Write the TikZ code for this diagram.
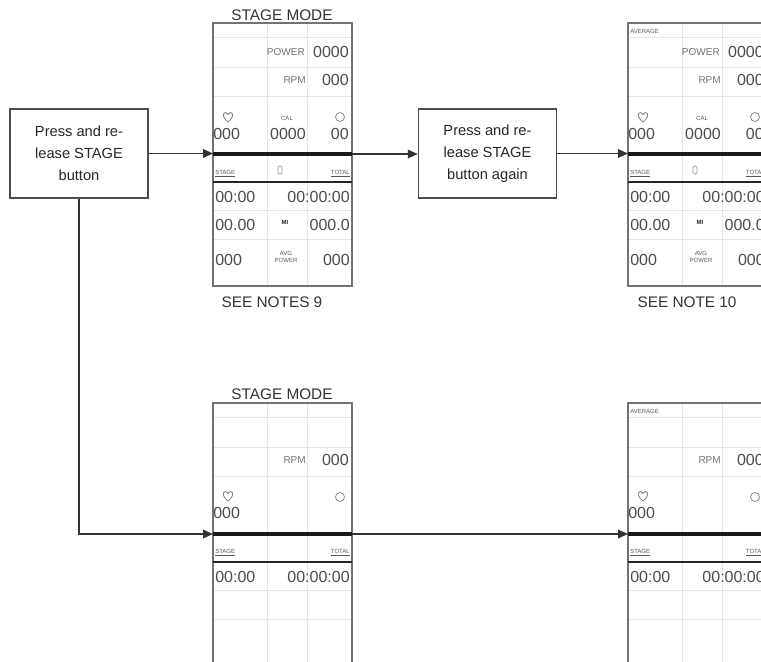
\documentclass[tikz,border=0pt]{standalone}
\usepackage{fontspec}
\setmainfont{Liberation Sans}
\usetikzlibrary{arrows.meta,calc}
\newcommand{\lcdbase}[1]{%
  \begin{scope}[shift={(#1.north west)}]
    \draw[gridln] (54,0)--(54,263) (94,0)--(94,263)
      (0,14)--(139,14) (0,44)--(139,44) (0,73)--(139,73)
      (0,187)--(139,187) (0,216)--(139,216);
    \draw[lcdframe] (0,0) rectangle (139,263);
    \draw[barln] (0,131) -- (139,131);
    \draw[barlnb] (0,159) -- (139,159);
    \coordinate (#1in) at (0,131);
    \coordinate (#1out) at (139,131);
  \end{scope}}
\newcommand{\heartat}[2]{%
  \draw[black!50, line width=0.6pt] (#1,#2+5) .. controls (#1-8,#2-1) and (#1-4,#2-8) .. (#1,#2-2.5)
    .. controls (#1+4,#2-8) and (#1+8,#2-1) .. (#1,#2+5);}
\begin{document}
\begin{tikzpicture}[x=0.75pt,y=-0.75pt,
  stepbox/.style={draw=black!70, line width=1.1pt, fill=white, align=center, text=black!85,
    font=\fontsize{11}{16.5}\selectfont, minimum width=103.5pt, minimum height=66.75pt, inner sep=0pt},
  lcd/.style={draw=none, fill=white, minimum width=104.25pt, minimum height=197.25pt, inner sep=0pt, anchor=north west},
  lcdframe/.style={draw=black!55, line width=1.2pt},
  conn/.style={draw=black!80, line width=0.9pt},
  arr/.style={conn, -{Triangle[length=7.5pt,width=6.5pt]}},
  gridln/.style={draw=black!10, line width=0.6pt},
  barln/.style={draw=black!90, line width=2.6pt},
  barlnb/.style={draw=black!85, line width=2pt},
  digit/.style={text=black!70, font=\fontsize{12}{12}\selectfont, inner sep=0pt},
  lbl/.style={text=black!55, font=\fontsize{7.5}{7.5}\selectfont, inner sep=0pt},
  tinylbl/.style={text=black!65, font=\fontsize{4.5}{5}\selectfont, inner sep=0pt, align=center},
  titletxt/.style={text=black!80, font=\fontsize{11.5}{11.5}\selectfont, inner sep=0pt},
  circ/.style={draw=black!45, line width=0.6pt},
]
\clip (0,0) rectangle (761,661);
\fill[white] (0,0) rectangle (761,661);

% step boxes
\node[stepbox] (b1) at (79,153.5) {Press and re-\\lease STAGE\\button};
\node[stepbox] (b2) at (487.5,153.5) {Press and re-\\lease STAGE\\button again};

% displays
\node[lcd] (d1) at (213,23) {};
\node[lcd] (d3) at (628,23) {};
\node[lcd] (d2) at (213,403) {};
\node[lcd] (d4) at (628,403) {};
\lcdbase{d1}
\lcdbase{d3}
\lcdbase{d2}
\lcdbase{d4}

% titles and notes
\node[titletxt] (t1) at (282,15) {STAGE MODE};
\node[titletxt] (t2) at (282,394) {STAGE MODE};
\node[titletxt] (n1) at (272,302) {SEE NOTES 9};
\node[titletxt] (n3) at (687,302) {SEE NOTE 10};

% full display contents (top)
\foreach \d in {d1,d3}{
\begin{scope}[shift={(\d.north west)}]
  \node[lbl, anchor=east] (\d pw) at (92,29) {POWER};
  \node[digit, anchor=east] (\d pwv) at (136,29) {0000};
  \node[lbl, anchor=east] (\d rp) at (93,57) {RPM};
  \node[digit, anchor=east] (\d rpv) at (136,57) {000};
  \heartat{15}{94}
  \node[digit, anchor=west] (\d hr) at (0,111) {000};
  \node[tinylbl] (\d cal) at (74,95) {CAL};
  \node[digit] (\d calv) at (75,111) {0000};
  \draw[circ] (127,94) circle (4.5);
  \node[digit, anchor=east] (\d sp) at (136,111) {00};
  \node[tinylbl, anchor=west] (\d st) at (2,151) {\underline{STAGE}};
  \draw[black!40, line width=0.5pt, rounded corners=1pt] (65,143) rectangle (69,151);
  \node[tinylbl, anchor=east] (\d tot) at (137,151) {\underline{TOTAL}};
  \node[digit, anchor=west] (\d st1) at (2,174) {00:00};
  \node[digit, anchor=east] (\d tt1) at (137,174) {00:00:00};
  \node[digit, anchor=west] (\d ds) at (2,202) {00.00};
  \node[tinylbl, text=black!85] (\d un) at (72,199) {\textbf{MI}};
  \node[digit, anchor=east] (\d dsv) at (137,202) {000.0};
  \node[digit, anchor=west] (\d ap) at (2,237) {000};
  \node[tinylbl] (\d apl) at (73,234) {AVG\\POWER};
  \node[digit, anchor=east] (\d apv) at (137,237) {000};
\end{scope}}

% reduced display contents (bottom)
\foreach \d in {d2,d4}{
\begin{scope}[shift={(\d.north west)}]
  \node[lbl, anchor=east] (\d rp) at (93,57) {RPM};
  \node[digit, anchor=east] (\d rpv) at (136,57) {000};
  \heartat{15}{93}
  \node[digit, anchor=west] (\d hr) at (0,110) {000};
  \draw[circ] (127,94) circle (4.5);
  \node[tinylbl, anchor=west] (\d st) at (2,150) {\underline{STAGE}};
  \node[tinylbl, anchor=east] (\d tot) at (137,150) {\underline{TOTAL}};
  \node[digit, anchor=west] (\d st1) at (2,174) {00:00};
  \node[digit, anchor=east] (\d tt1) at (137,174) {00:00:00};
\end{scope}}

% AVERAGE labels
\node[tinylbl, anchor=west] (d3avg) at ($(d3.north west)+(2,8)$) {AVERAGE};
\node[tinylbl, anchor=west] (d4avg) at ($(d4.north west)+(2,8)$) {AVERAGE};

% connectors
\draw[arr] (b1.east) -- (b1.east -| d1in);
\draw[arr] (d1out) -- (d1out -| b2.west);
\draw[arr] (b2.east) -- (b2.east -| d3in);
\draw[arr] (b1.south) |- (d2in);
\draw[arr] (d2out) -- (d4in);
\end{tikzpicture}
\end{document}
